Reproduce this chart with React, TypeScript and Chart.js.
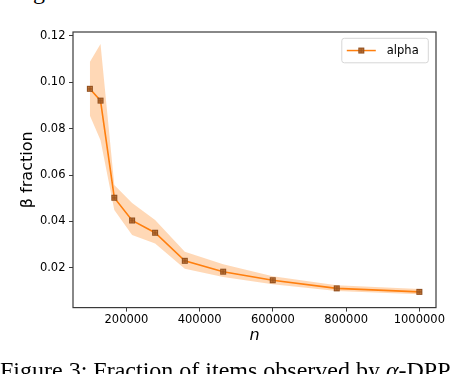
import React, { useEffect, useRef } from "react";
import { Chart, registerables } from "chart.js";

Chart.register(...registerables);

// ---- data ----
const nValues = [100000, 129155, 166810, 215443, 278256, 359381, 464159, 599484, 774264, 1000000];
const meanFraction = [0.0972, 0.0921, 0.0502, 0.0404, 0.0351, 0.0230, 0.0183, 0.0146, 0.0111, 0.0096];
const upperFraction = [0.1088, 0.1165, 0.0557, 0.0479, 0.0406, 0.0269, 0.0215, 0.0163, 0.0124, 0.0108];
const lowerFraction = [0.0857, 0.0750, 0.0449, 0.0341, 0.0305, 0.0196, 0.0160, 0.0129, 0.0100, 0.0086];
const xTickValues = [200000, 400000, 600000, 800000, 1000000];
const yTickValues = [0.02, 0.04, 0.06, 0.08, 0.1, 0.12];
const seriesLabel = "alpha";
const xAxisLabel = "n";
const yAxisLabel = "β fraction";

const ORANGE = "#ff7f0e";
const BAND = "rgba(255,127,14,0.3)";
const AXIS = "#3a3a3a";
const FONT = "'DejaVu Sans', sans-serif";

function makeMarker(): HTMLCanvasElement {
  const c = document.createElement("canvas");
  c.width = 8;
  c.height = 8;
  const g = c.getContext("2d")!;
  g.fillStyle = "rgba(200,118,50,0.95)";
  g.fillRect(1, 1, 6, 6);
  g.strokeStyle = "#8f4e1e";
  g.lineWidth = 1;
  g.strokeRect(1.5, 1.5, 5, 5);
  g.beginPath();
  g.moveTo(4, 1);
  g.lineTo(4, 7);
  g.moveTo(2, 4);
  g.lineTo(6, 4);
  g.stroke();
  return c;
}

const framePlugin = {
  id: "frameAndLegend",
  afterDraw(chart: any) {
    const { ctx, chartArea: a } = chart;
    ctx.save();
    // frame
    ctx.strokeStyle = AXIS;
    ctx.lineWidth = 1.2;
    ctx.strokeRect(a.left, a.top, a.right - a.left, a.bottom - a.top);
    // legend
    const bw = 86.5;
    const bh = 24.5;
    const bx = a.right - 7.7 - bw;
    const by = a.top + 6.3;
    const r = 2.5;
    ctx.beginPath();
    ctx.moveTo(bx + r, by);
    ctx.lineTo(bx + bw - r, by);
    ctx.arcTo(bx + bw, by, bx + bw, by + r, r);
    ctx.lineTo(bx + bw, by + bh - r);
    ctx.arcTo(bx + bw, by + bh, bx + bw - r, by + bh, r);
    ctx.lineTo(bx + r, by + bh);
    ctx.arcTo(bx, by + bh, bx, by + bh - r, r);
    ctx.lineTo(bx, by + r);
    ctx.arcTo(bx, by, bx + r, by, r);
    ctx.closePath();
    ctx.fillStyle = "rgba(255,255,255,0.8)";
    ctx.fill();
    ctx.strokeStyle = "#d6d6d6";
    ctx.lineWidth = 1;
    ctx.stroke();
    const cy = by + bh / 2;
    ctx.strokeStyle = ORANGE;
    ctx.lineWidth = 1.5;
    ctx.beginPath();
    ctx.moveTo(bx + 5, cy);
    ctx.lineTo(bx + 34, cy);
    ctx.stroke();
    const m = chart.$marker as HTMLCanvasElement;
    if (m) ctx.drawImage(m, bx + 19.5 - m.width / 2, cy - m.height / 2);
    ctx.fillStyle = "#000";
    ctx.font = `11.5px ${FONT}`;
    ctx.textBaseline = "middle";
    ctx.textAlign = "left";
    ctx.fillText(chart.data.datasets[0].label, bx + 45, cy + 0.5);
    ctx.restore();
  },
};

export default function App() {
  const ref = useRef<HTMLCanvasElement>(null);
  useEffect(() => {
    if (!ref.current) return;
    const marker = makeMarker();
    const pts = (ys: number[]) => nValues.map((x, i) => ({ x, y: ys[i] }));
    const chart = new Chart(ref.current, {
      type: "line",
      data: {
        datasets: [
          {
            label: seriesLabel,
            data: pts(meanFraction),
            borderColor: ORANGE,
            borderWidth: 1.6,
            pointStyle: marker as any,
            pointRadius: 4,
            fill: false,
            order: 0,
          },
          {
            label: "upper",
            data: pts(upperFraction),
            borderWidth: 0,
            pointRadius: 0,
            backgroundColor: BAND,
            fill: "+1",
            order: 1,
          },
          {
            label: "lower",
            data: pts(lowerFraction),
            borderWidth: 0,
            pointRadius: 0,
            fill: false,
            order: 2,
          },
        ],
      },
      options: {
        responsive: false,
        animation: false,
        devicePixelRatio: 1,
        layout: { padding: { top: 32, right: 30, left: 0, bottom: 0 } },
        plugins: { legend: { display: false }, tooltip: { enabled: false } },
        scales: {
          x: {
            type: "linear",
            min: 54000,
            max: 1045500,
            afterBuildTicks: (s: any) => {
              s.ticks = xTickValues.map((v) => ({ value: v }));
            },
            afterFit: (s: any) => {
              s.height = 66.4;
            },
            grid: { drawOnChartArea: false, drawTicks: true, tickLength: 4, tickColor: AXIS, tickWidth: 1 },
            border: { display: false },
            ticks: {
              autoSkip: false,
              maxRotation: 0,
              padding: 2,
              color: "#000",
              font: { family: FONT, size: 11.5 },
              callback: (v: any) => String(v),
            },
            title: {
              display: true,
              text: xAxisLabel,
              color: "#000",
              font: { family: FONT, size: 16, style: "italic" },
              padding: { top: 0, bottom: 28.4 },
            },
          },
          y: {
            type: "linear",
            min: 0.0028,
            max: 0.1217,
            afterBuildTicks: (s: any) => {
              s.ticks = yTickValues.map((v) => ({ value: v }));
            },
            afterFit: (s: any) => {
              s.width = 73;
            },
            grid: { drawOnChartArea: false, drawTicks: true, tickLength: 4, tickColor: AXIS, tickWidth: 1 },
            border: { display: false },
            ticks: {
              padding: 3.5,
              color: "#000",
              font: { family: FONT, size: 11.5 },
              callback: (v: any) => Number(v).toFixed(2),
            },
            title: {
              display: true,
              text: yAxisLabel,
              color: "#000",
              font: { family: FONT, size: 16 },
              padding: { top: 17.9, bottom: 0 },
            },
          },
        },
      },
      plugins: [framePlugin],
    });
    (chart as any).$marker = marker;
    chart.draw();
    return () => chart.destroy();
  }, []);

  return (
    <div
      style={{
        position: "absolute",
        left: 0,
        top: 0,
        width: 466,
        height: 374,
        overflow: "hidden",
        background: "#fff",
      }}
    >
      <span
        style={{
          position: "absolute",
          left: 33,
          top: -21,
          fontFamily: "'Liberation Serif', serif",
          fontSize: 24,
          lineHeight: "24px",
          color: "#000",
          whiteSpace: "nowrap",
        }}
      >
        g
      </span>
      <canvas ref={ref} width={466} height={374} style={{ position: "absolute", left: 0, top: 0 }} />
      <div
        style={{
          position: "absolute",
          left: 0,
          top: 357.8,
          fontFamily: "'Liberation Serif', serif",
          fontSize: 24,
          lineHeight: "24px",
          color: "#000",
          whiteSpace: "nowrap",
        }}
      >
        Figure 3: Fraction of items observed by <i>α</i>-DPP
      </div>
    </div>
  );
}
